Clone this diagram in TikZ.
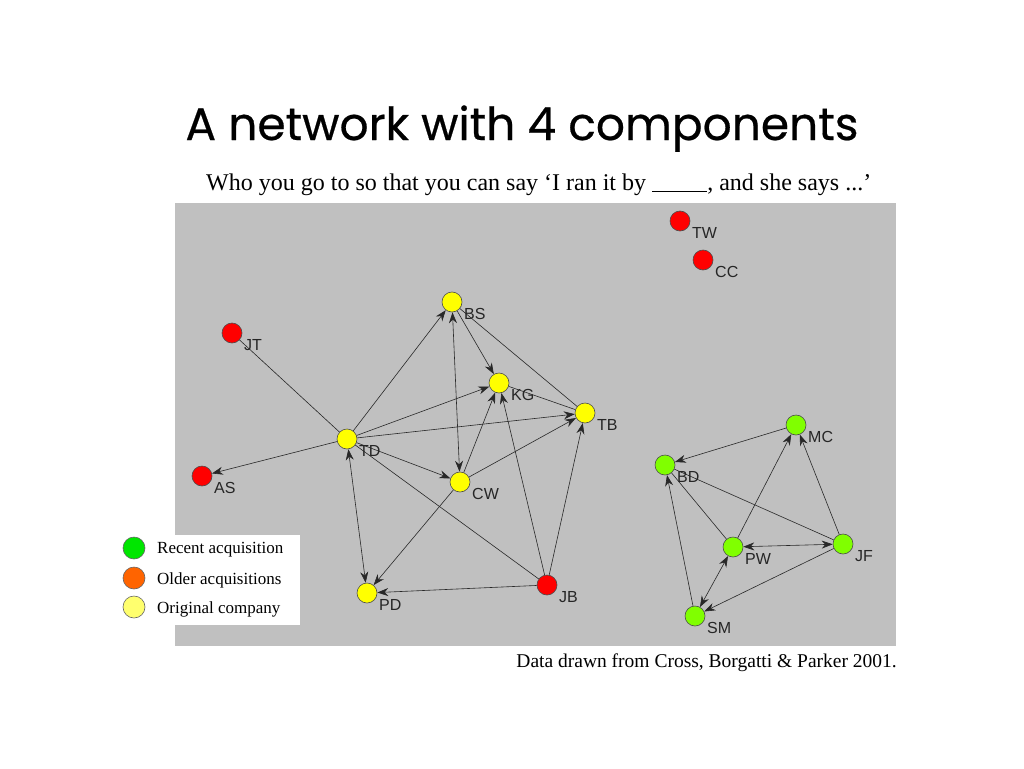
\documentclass[tikz,border=0pt]{standalone}
\usepackage{fontspec}
\setmainfont{Liberation Serif}
\newfontfamily\labfont{Liberation Sans}
\newfontfamily\titlefont[FakeBold=0.5]{Poppins}
\usetikzlibrary{arrows.meta}
\definecolor{bggray}{RGB}{192,192,192}
\definecolor{nyellow}{RGB}{255,255,0}
\definecolor{nred}{RGB}{255,0,0}
\definecolor{ngreen}{RGB}{128,255,0}
\definecolor{lgreen}{RGB}{0,230,0}
\definecolor{lorange}{RGB}{255,100,0}
\definecolor{lyellow}{RGB}{255,255,110}
\definecolor{edgecol}{RGB}{40,40,40}
\tikzset{
  vtx/.style={circle,draw=black!70,line width=0.6pt,minimum size=20pt,inner sep=0pt},
  yv/.style={vtx,fill=nyellow},
  rv/.style={vtx,fill=nred},
  gv/.style={vtx,fill=ngreen},
  vlab/.style={anchor=west,font=\labfont\fontsize{16}{16}\selectfont,text=black!85,inner sep=0pt},
  edge/.style={draw=edgecol,line width=0.6pt},
  arr/.style={edge,-{Stealth[length=11pt,width=8pt]}},
  barr/.style={edge,{Stealth[length=11pt,width=8pt]}-{Stealth[length=11pt,width=8pt]}},
  legc/.style={circle,draw=black!60,line width=0.6pt,minimum size=22pt,inner sep=0pt},
  legt/.style={anchor=west,font=\fontsize{17}{17}\selectfont,inner sep=0pt}
}
\begin{document}
\begin{tikzpicture}[x=1pt,y=-1pt]
\useasboundingbox (0,0) rectangle (1024,768);
\fill[white] (0,0) rectangle (1024,768);
% title
\node[font=\titlefont\fontsize{45.5}{45.5}\selectfont,anchor=base] (title) at (522,140) {A network with 4 components};
\node[font=\fontsize{24}{24}\selectfont,anchor=base west,inner sep=0pt] (sub) at (206,190) {Who you go to so that you can say ‘I ran it by \underline{\hspace{2.3em}}, and she says ...’};
% panel
\fill[bggray] (175,203) rectangle (896,646);
\node[font=\fontsize{19.5}{19.5}\selectfont,anchor=base east,inner sep=0pt] (foot) at (897,667) {Data drawn from Cross, Borgatti \& Parker 2001.};
% legend
\fill[white] (110,535) rectangle (300,625);
\node[legc,fill=lgreen] (l1) at (134,548) {};
\node[legc,fill=lorange] (l2) at (134,578) {};
\node[legc,fill=lyellow] (l3) at (134,607) {};
\node[legt] (t1) at (157,550) {Recent acquisition};
\node[legt] (t2) at (157,580) {Older acquisitions};
\node[legt] (t3) at (157,609) {Original company};
% nodes
\node[rv] (JT) at (232,333) {};
\node[yv] (TD) at (347,439) {};
\node[rv] (AS) at (202,476) {};
\node[yv] (BS) at (452,302) {};
\node[yv] (KG) at (499,383) {};
\node[yv] (TB) at (585,413) {};
\node[yv] (CW) at (460,482) {};
\node[yv] (PD) at (367,593) {};
\node[rv] (JB) at (547,585) {};
\node[rv] (TW) at (680,221) {};
\node[rv] (CC) at (703,260) {};
\node[gv] (MC) at (796,425) {};
\node[gv] (BD) at (665,465) {};
\node[gv] (PW) at (733,547) {};
\node[gv] (JF) at (843,544) {};
\node[gv] (SM) at (695,616) {};
% labels
\foreach \n in {JT,TD,AS,BS,KG,TB,CW,PD,JB,TW,CC,MC,BD,PW,JF,SM}{
  \node[vlab] (lab\n) at ([shift={(12,12)}]\n.center) {\n};
}
% left component edges
\draw[edge] (JT) -- (TD);
\draw[arr] (TD) -- (AS);
\draw[arr] (TD) -- (BS);
\draw[arr] (TD) -- (KG);
\draw[arr] (TD) -- (TB);
\draw[arr] (TD) -- (CW);
\draw[edge] (TD) -- (JB);
\draw[barr] (TD) -- (PD);
\draw[barr] (BS) -- (CW);
\draw[arr] (BS) -- (KG);
\draw[edge] (BS) -- (TB);
\draw[edge] (KG) -- (TB);
\draw[arr] (CW) -- (KG);
\draw[arr] (JB) -- (KG);
\draw[arr] (CW) -- (TB);
\draw[arr] (CW) -- (PD);
\draw[arr] (JB) -- (TB);
\draw[arr] (JB) -- (PD);
% right component edges
\draw[arr] (MC) -- (BD);
\draw[edge] (BD) -- (JF);
\draw[edge] (BD) -- (PW);
\draw[arr] (SM) -- (BD);
\draw[arr] (PW) -- (MC);
\draw[arr] (JF) -- (MC);
\draw[barr] (PW) -- (JF);
\draw[barr] (PW) -- (SM);
\draw[arr] (JF) -- (SM);
\end{tikzpicture}
\end{document}
